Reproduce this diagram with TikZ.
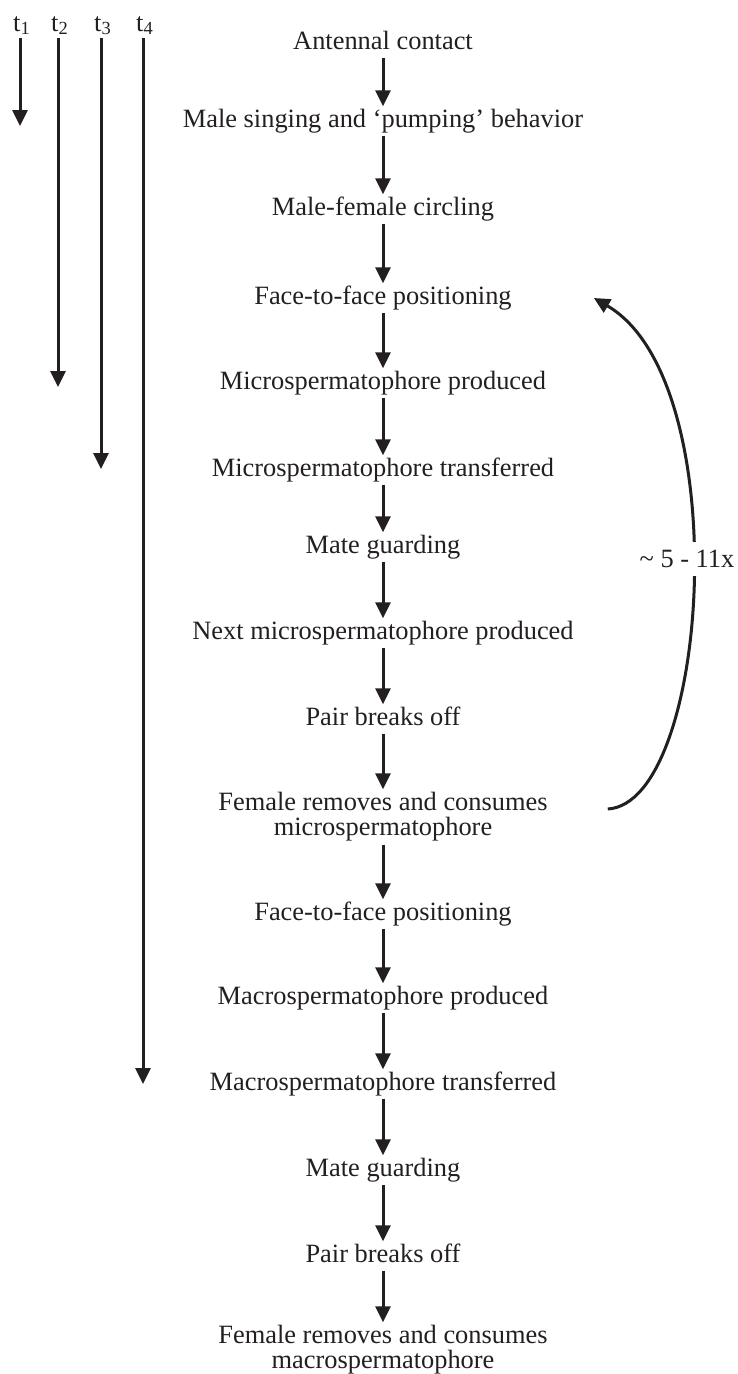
\documentclass[tikz,border=0pt]{standalone}
\usepackage{fontspec}
\setmainfont{Liberation Serif}
\usetikzlibrary{arrows.meta}
\definecolor{ink}{HTML}{231F20}
\tikzset{
  txt/.style={font=\fontsize{26.4}{25}\selectfont, text=ink, inner xsep=2pt, inner ysep=3pt},
  one/.style={txt, text height=18pt, text depth=5pt},
  two/.style={txt, align=center},
  flow/.style={draw=ink, line width=3pt, -{Triangle[length=16pt,width=15pt]}},
  tarr/.style={draw=ink, line width=3pt, -{Triangle[length=16pt,width=15pt]}},
  curv/.style={draw=ink, line width=3pt, -{Triangle[length=16pt,width=15pt]}},
  tlab/.style={font=\fontsize{26.4}{25}\selectfont, text=ink, inner sep=1pt, anchor=base west},
}
\begin{document}
\begin{tikzpicture}[x=1pt,y=-1pt]
\useasboundingbox (0,0) rectangle (737,1374);
% main flow
\node[one] (n1) at (383,43) {Antennal contact};
\node[one] (n2) at (383,121) {Male singing and ‘pumping’ behavior};
\node[one] (n3) at (383,209) {Male-female circling};
\node[one] (n4) at (383,298) {Face-to-face positioning};
\node[one] (n5) at (383,383) {Microspermatophore produced};
\node[one] (n6) at (383,470) {Microspermatophore transferred};
\node[one] (n7) at (383,547) {Mate guarding};
\node[one] (n8) at (383,633) {Next microspermatophore produced};
\node[one] (n9) at (383,719) {Pair breaks off};
\node[two] (n10) at (383,817) {Female removes and consumes\\microspermatophore};
\node[one] (n11) at (383,914) {Face-to-face positioning};
\node[one] (n12) at (383,998) {Macrospermatophore produced};
\node[one] (n13) at (383,1084) {Macrospermatophore transferred};
\node[one] (n14) at (383,1170) {Mate guarding};
\node[one] (n15) at (383,1256) {Pair breaks off};
\node[two] (n16) at (383,1350) {Female removes and consumes\\macrospermatophore};
\foreach \a/\b in {n1/n2,n2/n3,n3/n4,n4/n5,n5/n6,n6/n7,n7/n8,n8/n9,n9/n10,n10/n11,n11/n12,n12/n13,n13/n14,n14/n15,n15/n16}
  \draw[flow] (\a.south) -- (\b.north);
% time labels and arrows
\node[tlab] (t1) at (12,31) {t\textsubscript{1}};
\node[tlab] (t2) at (50,31) {t\textsubscript{2}};
\node[tlab] (t3) at (93,31) {t\textsubscript{3}};
\node[tlab] (t4) at (135,31) {t\textsubscript{4}};
\coordinate (s1) at (20,38);
\coordinate (s2) at (58,38);
\coordinate (s3) at (101,38);
\coordinate (s4) at (143,38);
\coordinate (e1) at (20,126);
\coordinate (e2) at (58,387);
\coordinate (e3) at (101,469);
\coordinate (e4) at (143,1084);
\draw[tarr] (s1) -- (e1);
\draw[tarr] (s2) -- (e2);
\draw[tarr] (s3) -- (e3);
\draw[tarr] (s4) -- (e4);
% repeat loop
\draw[curv] ([xshift=58pt,yshift=8pt]n10.east) .. controls +(102,-6) and +(143,83) .. ([xshift=80pt]n4.east);
\node[txt, fill=white, inner ysep=8pt, inner xsep=1pt] (rep) at (687,559) {\textasciitilde{} 5 - 11x};
\end{tikzpicture}
\end{document}
